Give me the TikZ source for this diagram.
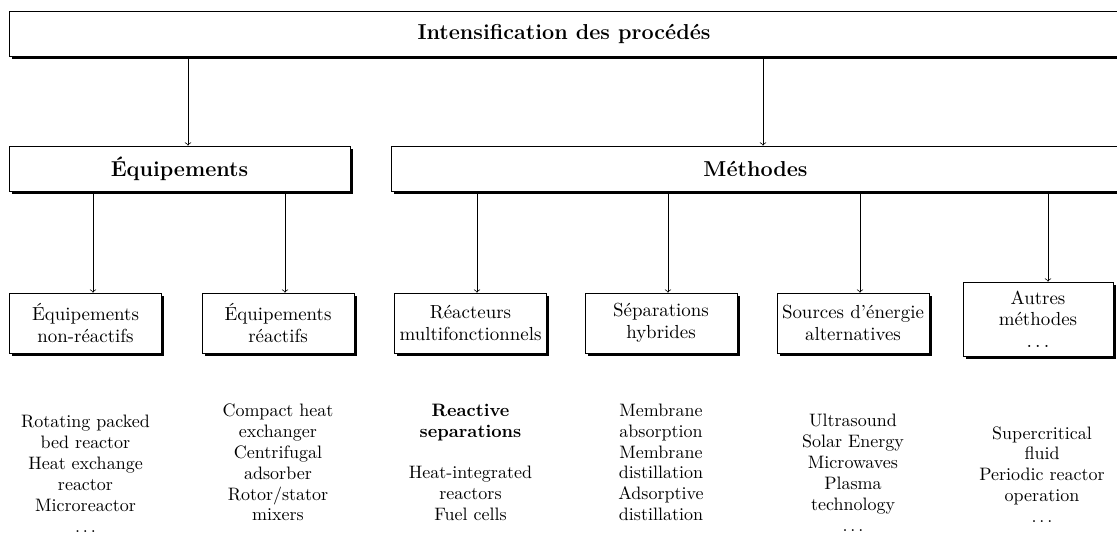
\documentclass[tikz,border=0pt]{standalone}
\usepackage{tikz}
\usetikzlibrary{shadows}
\tikzset{
    box/.style = {draw=black, fill=white, thin, align=center, inner sep=2pt,
        drop shadow={shadow xshift=1.6pt, shadow yshift=-1.6pt, opacity=1, fill=black}},
    headbox/.style = {box, font=\large\bfseries, minimum height=25pt},
    catbox/.style = {box, font=\fontsize{10.5}{12}\selectfont, minimum width=84.4pt, minimum height=33.3pt},
    liste/.style = {align=center, anchor=north, inner sep=0pt, font=\fontsize{10}{11.6}\selectfont},
    arr/.style = {->, thin}
}

\begin{document}
\begin{tikzpicture}[x=0.5556pt, y=-0.5556pt]
    \path[use as bounding box, clip] (0,0) rectangle (1117,533);

    % arrow columns
    \coordinate (a1) at (188,0);
    \coordinate (a2) at (763,0);
    \coordinate (k1) at (93,0);
    \coordinate (k2) at (285,0);
    \coordinate (k3) at (477,0);
    \coordinate (k4) at (668,0);
    \coordinate (k5) at (860,0);
    \coordinate (k6) at (1048,0);

    % levels 1 and 2
    \node [headbox, minimum width=616.7pt] (proc) at (564,33.5) {Intensification des procédés};
    \node [headbox, minimum width=189.4pt] (equip) at (179.5,168.5) {Équipements};
    \node [headbox, minimum width=405pt] (meth) at (755.5,168.5) {Méthodes};

    % level 3
    \node [catbox] (nonreac) at (85.5,323) {Équipements\\non-réactifs};
    \node [catbox] (reac) at (278,323) {Équipements\\réactifs};
    \node [catbox] (multi) at (470.5,323) {Réacteurs\\multifonctionnels};
    \node [catbox] (hybr) at (661,323) {Séparations\\hybrides};
    \node [catbox] (alter) at (853,323) {Sources d'énergie\\alternatives};
    \node [catbox, minimum width=83.3pt, minimum height=41.1pt] (autres) at (1038,319) {Autres\\méthodes\\$\dots$};

    \foreach \src/\dst/\col in {proc/equip/a1, proc/meth/a2,
            equip/nonreac/k1, equip/reac/k2,
            meth/multi/k3, meth/hybr/k4, meth/alter/k5, meth/autres/k6}
        \draw [arr] (\src.south -| \col) -- (\dst.north -| \col);

    % examples
    \node [liste] (ex1) at (85.5,415) {Rotating packed\\bed reactor\\Heat exchange\\reactor\\Microreactor\\$\dots$};
    \node [liste] (ex2) at (278,403.5) {Compact heat\\exchanger\\Centrifugal\\adsorber\\Rotor/stator\\mixers};
    \node [liste] (ex3) at (470.5,403.5) {\textbf{Reactive}\\\textbf{separations}\\[11.6pt]Heat-integrated\\reactors\\Fuel cells};
    \node [liste] (ex4) at (661,403.5) {Membrane\\absorption\\Membrane\\distillation\\Adsorptive\\distillation};
    \node [liste] (ex5) at (853,414) {Ultrasound\\Solar Energy\\Microwaves\\Plasma\\technology\\$\dots$};
    \node [liste] (ex6) at (1042,426) {Supercritical\\fluid\\Periodic reactor\\operation\\$\dots$};
\end{tikzpicture}
\end{document}
